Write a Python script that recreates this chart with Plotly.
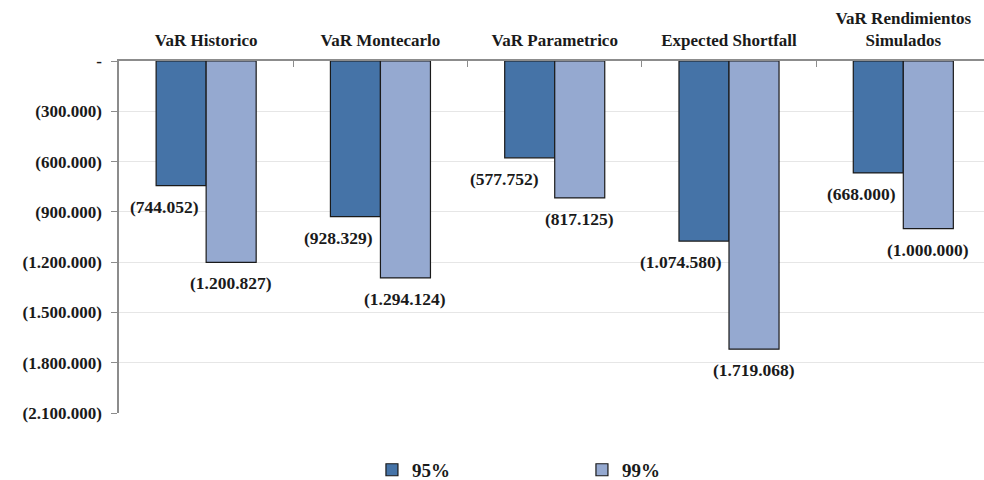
import plotly.graph_objects as go

# Risk measures (negative = loss), two confidence levels
categories = ["VaR Historico", "VaR Montecarlo", "VaR Parametrico",
              "Expected Shortfall", "VaR Rendimientos<br>Simulados"]
var_95 = [-744052, -928329, -577752, -1074580, -668000]
var_99 = [-1200827, -1294124, -817125, -1719068, -1000000]

y_tickvals = [0, -300000, -600000, -900000, -1200000, -1500000, -1800000, -2100000]
y_ticktext = ["-", "(300.000)", "(600.000)", "(900.000)", "(1.200.000)",
              "(1.500.000)", "(1.800.000)", "(2.100.000)"]

# horizontal nudges (px) for the 95% labels, which sit left of their bars
label_dx_95 = [-5, -5, -14, -5, -5]

COL_95 = "#4573A7"
COL_99 = "#95A9D0"
FONT = "Liberation Serif"


def fmt_neg(v):
    s = f"{abs(v):,}".replace(",", ".")
    return f"({s})" if v < 0 else s


fig = go.Figure()
fig.add_trace(go.Bar(name="95%", x=categories, y=var_95, marker_color=COL_95,
                     marker_line=dict(color="#1a1a1a", width=1.2)))
fig.add_trace(go.Bar(name="99%", x=categories, y=var_99, marker_color=COL_99,
                     marker_line=dict(color="#1a1a1a", width=1.2)))

lab_font = dict(family=FONT, size=17.5, color="#1a1a1a", weight="bold")
for i, cat in enumerate(categories):
    fig.add_annotation(x=cat, y=var_95[i], text=fmt_neg(var_95[i]), showarrow=False,
                       xanchor="right", yanchor="middle", xshift=label_dx_95[i],
                       yshift=-21, font=lab_font)
    fig.add_annotation(x=cat, y=var_99[i], text=fmt_neg(var_99[i]), showarrow=False,
                       xanchor="center", yanchor="middle", xshift=25,
                       yshift=-21, font=lab_font)

fig.update_layout(
    width=984, height=480,
    margin=dict(l=119, r=0, t=61, b=67),
    paper_bgcolor="white", plot_bgcolor="white",
    barmode="group", bargap=0.426, bargroupgap=0,
    font=dict(family=FONT, size=17, color="#1a1a1a", weight="bold"),
    showlegend=True,
    legend=dict(orientation="h", xref="container", yref="container",
                x=0.378, y=0.021, xanchor="left", yanchor="middle",
                font=dict(size=19), entrywidth=165, entrywidthmode="pixels",
                traceorder="normal"),
    xaxis=dict(side="top", range=[-0.5, 4.463], showline=True, linecolor="#8c8c8c",
               linewidth=1.5, ticks="inside", tickson="boundaries", ticklen=6,
               tickcolor="#8c8c8c", showgrid=False, zeroline=False,
               tickfont=dict(size=17), ticklabelstandoff=6, fixedrange=True),
    yaxis=dict(range=[-2100000, 0], tickvals=y_tickvals, ticktext=y_ticktext,
               showline=True, linecolor="#8c8c8c", linewidth=1.5, ticks="outside",
               ticklen=6, tickcolor="#8c8c8c", showgrid=True, gridcolor="#e6e6e6",
               gridwidth=1.2, zeroline=False, tickfont=dict(size=17),
               ticklabelstandoff=6),
)

fig.write_html("out.html")
